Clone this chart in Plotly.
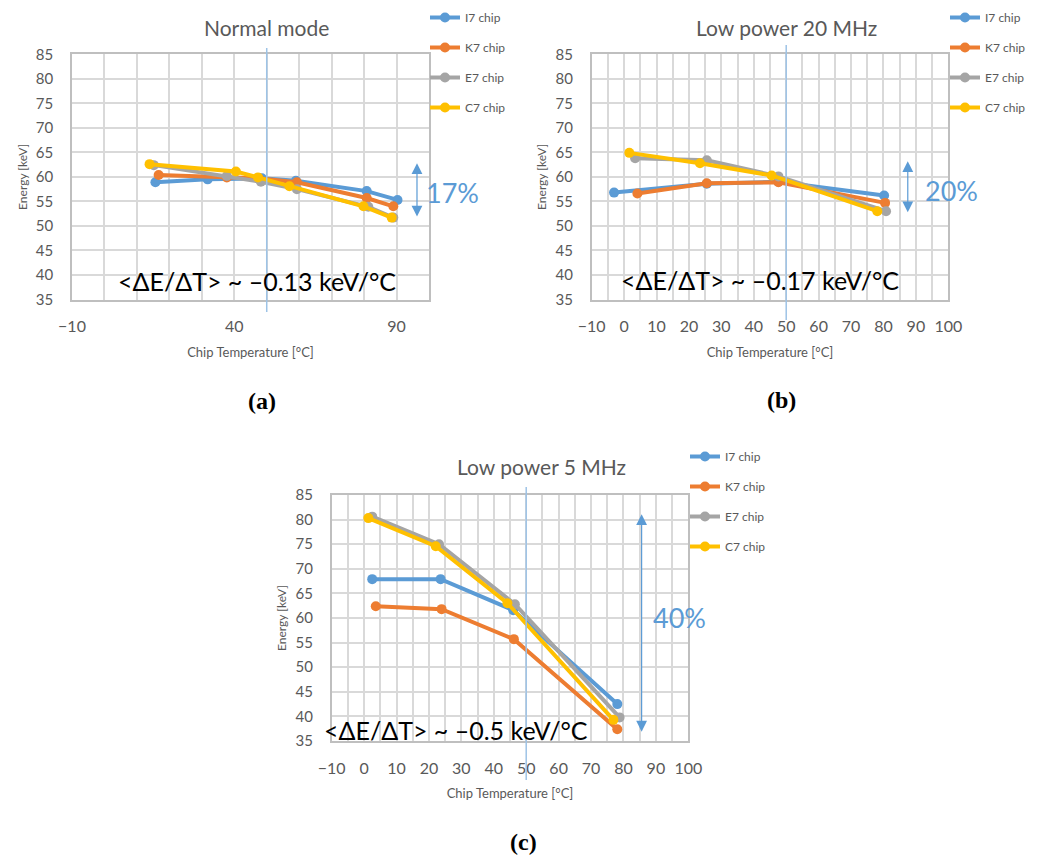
import plotly.graph_objects as go

# ---------------- data ----------------
chips = ["I7 chip", "K7 chip", "E7 chip", "C7 chip"]
colors = ["#5B9BD5", "#ED7D31", "#A5A5A5", "#FFC000"]

# (a) Normal mode
a_I7_T = [15.7, 31.8, 48.5, 59.0, 80.8, 90.3]
a_I7_E = [58.9, 59.5, 59.7, 59.2, 57.1, 55.3]
a_K7_T = [16.7, 37.7, 47.5, 59.3, 80.8, 89.0]
a_K7_E = [60.4, 59.9, 59.7, 58.9, 55.7, 54.0]
a_E7_T = [15.2, 37.7, 48.2, 59.3, 81.3, 89.0]
a_E7_E = [62.4, 60.2, 59.0, 57.5, 53.9, 51.7]
a_C7_T = [13.9, 40.5, 47.3, 57.0, 79.8, 88.5]
a_C7_E = [62.6, 61.1, 59.9, 58.1, 54.0, 51.7]

# (b) Low power 20 MHz
b_I7_T = [-3.1, 25.5, 47.6, 80.2]
b_I7_E = [56.8, 58.6, 59.0, 56.2]
b_K7_T = [4.1, 25.5, 47.6, 80.5]
b_K7_E = [56.6, 58.7, 58.9, 54.7]
b_E7_T = [3.4, 25.5, 47.6, 80.8]
b_E7_E = [63.8, 63.4, 60.1, 53.0]
b_C7_T = [1.6, 23.4, 45.5, 78.1]
b_C7_E = [64.9, 62.8, 60.3, 53.0]

# (c) Low power 5 MHz
c_I7_T = [2.5, 23.6, 46.0, 78.1]
c_I7_E = [67.9, 67.9, 61.6, 42.5]
c_K7_T = [3.6, 23.9, 46.2, 78.1]
c_K7_E = [62.4, 61.8, 55.7, 37.4]
c_E7_T = [2.5, 23.1, 46.5, 78.8]
c_E7_E = [80.6, 75.0, 62.8, 39.8]
c_C7_T = [1.3, 22.1, 44.2, 76.9]
c_C7_E = [80.3, 74.6, 63.0, 39.3]

titles = ["Normal mode", "Low power 20 MHz", "Low power 5 MHz"]
slopes = ["<ΔE/ΔT> ~ –0.13 keV/°C", "<ΔE/ΔT> ~ –0.17 keV/°C", "<ΔE/ΔT> ~ –0.5 keV/°C"]
spreads = ["17%", "20%", "40%"]
panel_labels = ["(a)", "(b)", "(c)"]

x_range = [-10, 100]
y_range = [35, 85]
x_major = [50, 10, 10]      # labelled tick spacing per panel
x_minor = [10, 5, 5]        # vertical gridline spacing per panel
y_step = 5
marker_T = 50
arrow_x = [96.3, 87.5, 85.6]
arrow_top = [62.8, 63.2, 81.1]
arrow_bot = [51.6, 52.5, 36.6]

panels = [
    [(a_I7_T, a_I7_E), (a_K7_T, a_K7_E), (a_E7_T, a_E7_E), (a_C7_T, a_C7_E)],
    [(b_I7_T, b_I7_E), (b_K7_T, b_K7_E), (b_E7_T, b_E7_E), (b_C7_T, b_C7_E)],
    [(c_I7_T, c_I7_E), (c_K7_T, c_K7_E), (c_E7_T, c_E7_E), (c_C7_T, c_C7_E)],
]

# ---------------- layout geometry (pixels) ----------------
W, H = 1044, 855
FONT = "Lato"
GRAY = "#595959"
GRID = "#D9D9D9"


def px(x):
    return x / W


def py(y):
    return 1 - y / H


plot_boxes = [(72, 429, 54.3, 299.5), (591.7, 948.3, 54.3, 299.5), (331.7, 688.3, 495, 741)]
title_pos = [(266, 28), (786, 28), (541, 467)]
slope_pos = [(257, 281), (760, 280), (456, 730)]
spread_pos = [(452, 192), (951, 190), (679, 617)]
label_pos = [(262, 401), (781, 400), (523, 842)]
legend_pos = [(425, 3), (945, 3), (685, 442)]
vline_y = [(48, 312), (45, 320), (487, 780)]

fig = go.Figure()
annotations = []
shapes = []

for p in range(3):
    xa = "x" if p == 0 else f"x{p + 1}"
    ya = "y" if p == 0 else f"y{p + 1}"
    leg = "legend" if p == 0 else f"legend{p + 1}"
    for i, (T, E) in enumerate(panels[p]):
        fig.add_trace(go.Scatter(
            x=T, y=E, name=chips[i], mode="lines+markers",
            line=dict(color=colors[i], width=4),
            marker=dict(color=colors[i], size=10),
            xaxis=xa, yaxis=ya, legend=leg, legendgroup=f"p{p}{i}",
        ))

    x0, x1, y0, y1 = plot_boxes[p]
    xkey = "xaxis" if p == 0 else f"xaxis{p + 1}"
    ykey = "yaxis" if p == 0 else f"yaxis{p + 1}"
    fig.update_layout({
        xkey: dict(
            domain=[px(x0), px(x1)], anchor=ya, range=x_range, automargin=False,
            tickmode="linear", tick0=x_range[0], dtick=x_major[p],
            minor=dict(tickmode="linear", tick0=x_range[0], dtick=x_minor[p],
                       showgrid=True, gridcolor=GRID, gridwidth=1.5, ticks=""),
            showgrid=True, gridcolor=GRID, gridwidth=1.5,
            showline=True, linecolor="#BFBFBF", linewidth=1.5, mirror=True,
            zeroline=False, ticks="", ticklabelstandoff=12,
            tickfont=dict(family=FONT, size=16, color=GRAY),
            title=dict(text="Chip Temperature [°C]", standoff=13,
                       font=dict(family=FONT, size=13, color=GRAY)),
        ),
        ykey: dict(
            domain=[py(y1), py(y0)], anchor=xa, range=y_range, automargin=False,
            tickmode="linear", tick0=y_range[0], dtick=y_step,
            showgrid=True, gridcolor=GRID, gridwidth=1.5,
            showline=True, linecolor="#BFBFBF", linewidth=1.5, mirror=True,
            zeroline=False, ticks="", ticklabelstandoff=14,
            tickfont=dict(family=FONT, size=15, color=GRAY),
            title=dict(text="Energy [keV]", standoff=6,
                       font=dict(family=FONT, size=12, color=GRAY)),
        ),
        leg: dict(
            x=px(legend_pos[p][0]), y=py(legend_pos[p][1]),
            xanchor="left", yanchor="top", tracegroupgap=11,
            font=dict(family=FONT, size=12, color=GRAY),
            bgcolor="rgba(0,0,0,0)", itemclick=False, itemdoubleclick=False,
        ),
    })

    # vertical reference line at 50 °C
    shapes.append(dict(type="line", xref=xa, yref="paper",
                       x0=marker_T, x1=marker_T,
                       y0=py(vline_y[p][1]), y1=py(vline_y[p][0]),
                       line=dict(color="#9DC3E6", width=1.5), layer="above"))

    # double-headed arrow
    annotations.append(dict(
        x=arrow_x[p], y=arrow_top[p], ax=arrow_x[p], ay=arrow_bot[p],
        xref=xa, yref=ya, axref=xa, ayref=ya, text="", showarrow=True,
        arrowhead=2, startarrowhead=2, arrowside="end+start",
        arrowsize=1.8, startarrowsize=1.8, arrowwidth=1.2, arrowcolor="#5B9BD5",
    ))

    common = dict(xref="paper", yref="paper", showarrow=False,
                  xanchor="center", yanchor="middle")
    annotations += [
        dict(text=titles[p], x=px(title_pos[p][0]), y=py(title_pos[p][1]),
             font=dict(family=FONT, size=21, color=GRAY), **common),
        dict(text=slopes[p], x=px(slope_pos[p][0]), y=py(slope_pos[p][1]),
             font=dict(family=FONT, size=25, color="black"), **common),
        dict(text=spreads[p], x=px(spread_pos[p][0]), y=py(spread_pos[p][1]),
             font=dict(family=FONT, size=27, color="#5B9BD5"), **common),
        dict(text=f"<b>{panel_labels[p]}</b>", x=px(label_pos[p][0]), y=py(label_pos[p][1]),
             font=dict(family="Liberation Serif", size=24, color="black"), **common),
    ]

fig.update_layout(
    width=W, height=H, margin=dict(l=0, r=0, t=0, b=0),
    paper_bgcolor="white", plot_bgcolor="white",
    annotations=annotations, shapes=shapes,
    font=dict(family=FONT, color=GRAY),
)

fig.write_html("out.html", config={"displayModeBar": False},
               post_script="document.body.style.margin='0';")
